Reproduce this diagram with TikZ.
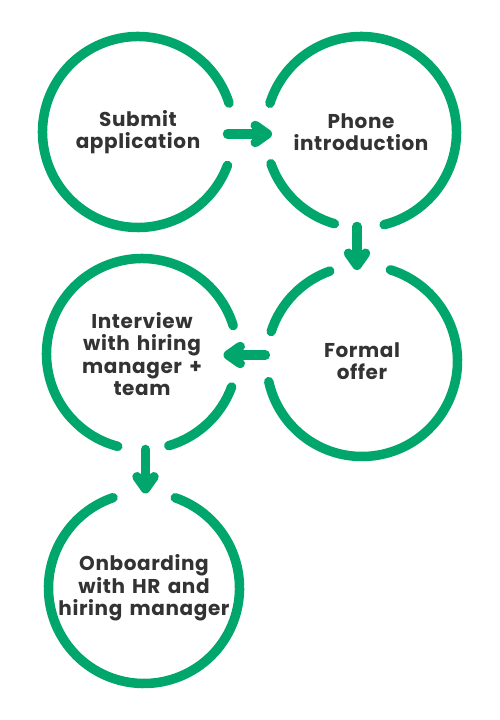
\documentclass[tikz,border=0pt]{standalone}
\usepackage{fontspec}
\setmainfont{Poppins}[LetterSpace=3.0, WordSpace=1.5]
\usetikzlibrary{arrows.meta}

\definecolor{stagegreen}{RGB}{0,166,108}
\definecolor{stagetext}{RGB}{51,51,51}

\begin{document}
\begin{tikzpicture}[
    x=1pt, y=1pt,
    stage/.style={circle, minimum size=191pt, inner sep=0pt, outer sep=0pt,
        align=center, text=stagetext, font=\bfseries\fontsize{20}{22.5}\selectfont},
    ring/.style={draw=stagegreen, line width=9.5pt, line cap=round},
    flow/.style={ring, -{Straight Barb[length=12pt, width=17pt, round]}}
]
\useasboundingbox (0,0) rectangle (500,720);

\node[stage] (1) at (138,588) {Submit\\application};
\node[stage] (2) at (361,588) {Phone\\introduction};
\node[stage] (3) at (362,359) {Formal\\offer};
\node[stage] (4) at (142,366) {Interview\\with hiring\\manager +\\team};
\node[stage] (5) at (144,132) {Onboarding\\with HR and\\hiring manager};

% rings, open where the arrows pass
\draw[ring] (1.center) ++(17.6:95.5pt) arc[start angle=17.6, end angle=339.5, radius=95.5pt];
\draw[ring] (2.center) ++(199.4:95.5pt) arc[start angle=199.4, end angle=253.8, radius=95.5pt];
\draw[ring] (2.center) ++(284:95.5pt) arc[start angle=284, end angle=522.5, radius=95.5pt];
\draw[ring] (3.center) ++(192.5:95.5pt) arc[start angle=192.5, end angle=432.7, radius=95.5pt];
\draw[ring] (3.center) ++(109.7:95.5pt) arc[start angle=109.7, end angle=162, radius=95.5pt];
\draw[ring] (4.center) ++(17.3:95.5pt) arc[start angle=17.3, end angle=255.3, radius=95.5pt];
\draw[ring] (4.center) ++(286.3:95.5pt) arc[start angle=286.3, end angle=339.8, radius=95.5pt];
\draw[ring] (5.center) ++(108.9:95.5pt) arc[start angle=108.9, end angle=430.9, radius=95.5pt];

% arrows
\draw[flow, shorten <=-6pt, shorten >=-6.5pt] ([yshift=-2pt]1.east) -- ([yshift=-2pt]2.west);
\draw[flow, shorten <=-1pt, shorten >=-4.5pt] ([xshift=-4pt]2.south) -- ([xshift=-5pt]3.north);
\draw[flow, shorten <=1.2pt, shorten >=-14pt] ([yshift=6pt]3.west) -- ([yshift=-1pt]4.east);
\draw[flow, shorten <=0pt, shorten >=-1pt] ([xshift=3.5pt]4.south) -- ([xshift=1.5pt]5.north);

\end{tikzpicture}
\end{document}
